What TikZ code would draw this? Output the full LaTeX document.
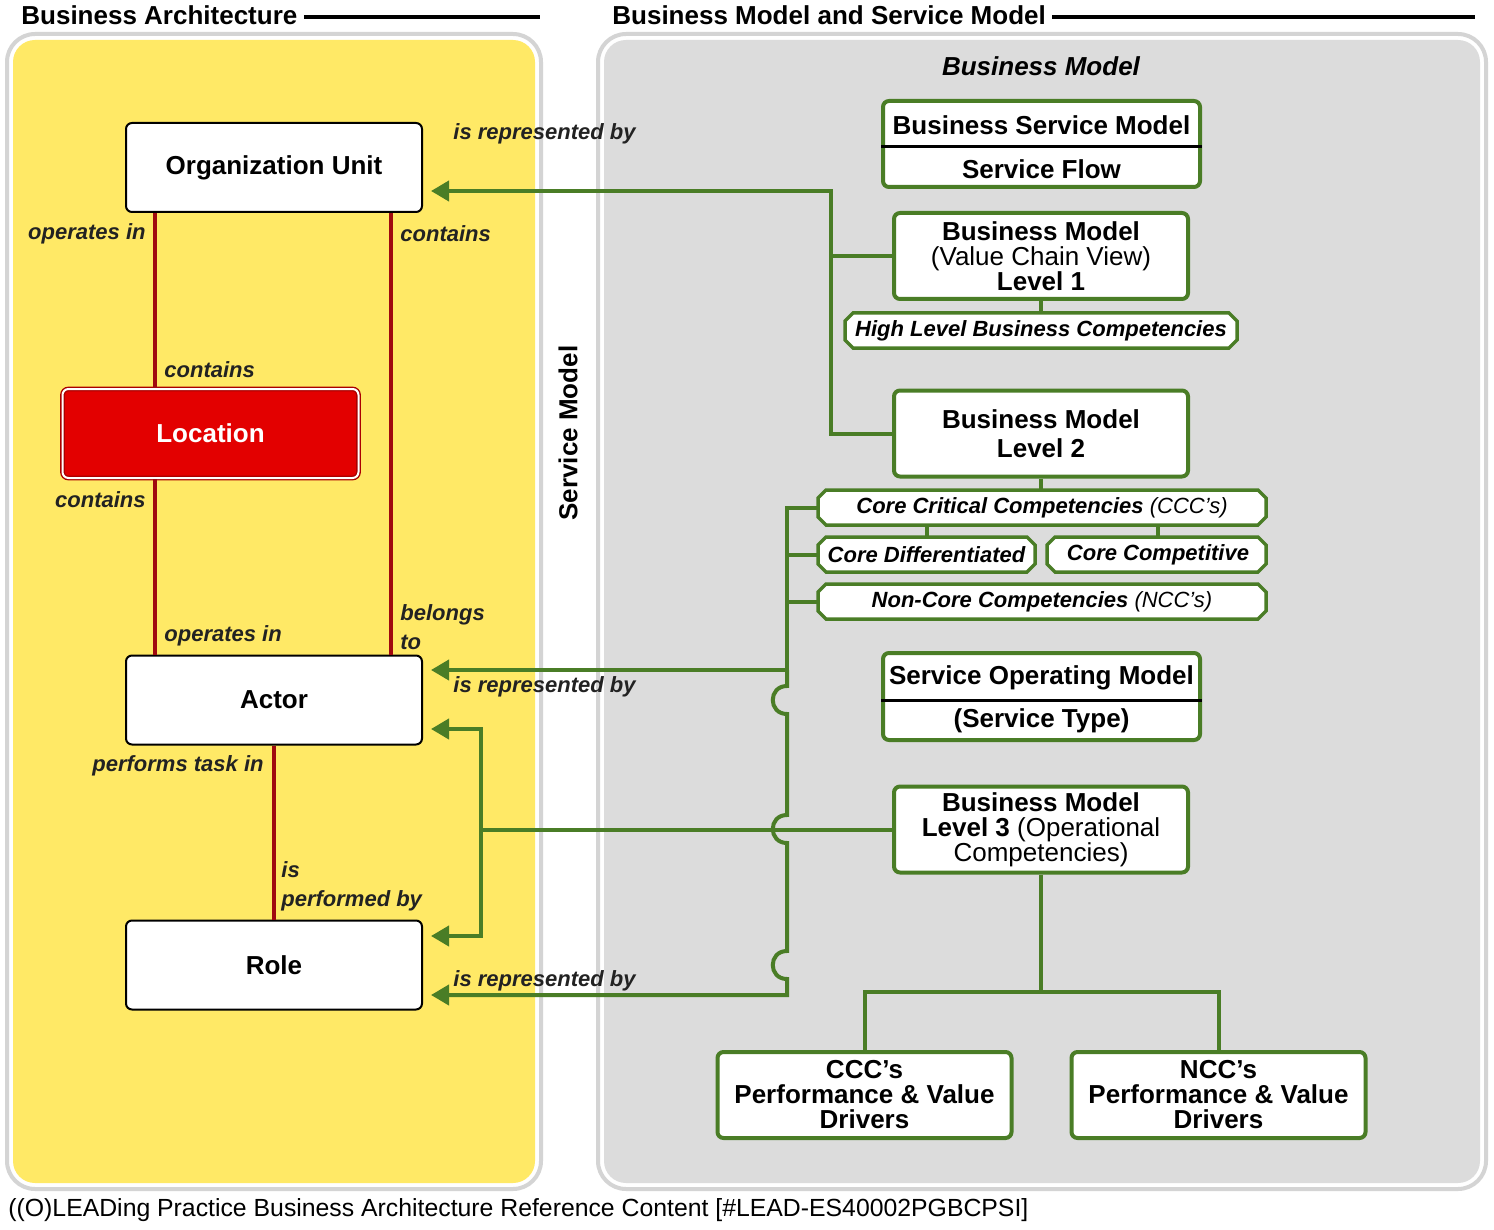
\documentclass[tikz,border=0pt]{standalone}
\usepackage{fontspec}
\setmainfont{Liberation Sans}
\newfontfamily\footfont{Liberation Sans}
\usetikzlibrary{arrows.meta}
\definecolor{bayellow}{RGB}{255, 233, 102}
\definecolor{panelgray}{RGB}{220, 220, 220}
\definecolor{framegray}{RGB}{212, 212, 212}
\definecolor{linkgreen}{RGB}{74, 125, 38}
\definecolor{reldark}{RGB}{160, 10, 15}
\definecolor{locred}{RGB}{227, 0, 0}
\definecolor{locdark}{RGB}{170, 0, 0}
\definecolor{labeltext}{RGB}{34, 34, 34}

% chamfered frame: x1, y1, x2, y2 (pixels)
\newcommand{\chamferbox}[4]{%
  \filldraw [compframe] (#1+8,#2) -- (#3-8,#2) -- (#3,#2+8) -- (#3,#4-8) -- (#3-8,#4)
    -- (#1+8,#4) -- (#1,#4-8) -- (#1,#2+8) -- cycle;}

\tikzset{
  entity/.style={draw=black, line width=1pt, fill=white, rounded corners=3pt,
    minimum width=148pt, minimum height=44.5pt, font=\bfseries\fontsize{13}{15}\selectfont},
  model/.style={draw=linkgreen, line width=2pt, fill=white, rounded corners=3pt,
    minimum width=147pt, minimum height=43pt, align=center, inner sep=0pt,
    font=\fontsize{13}{12.5}\selectfont},
  modelbold/.style={model, font=\bfseries\fontsize{13}{12.5}\selectfont},
  compframe/.style={draw=linkgreen, fill=white, line width=1.75pt, line join=miter},
  competence/.style={minimum height=17.5pt, inner sep=0pt,
    font=\bfseries\itshape\fontsize{11}{13}\selectfont},
  relation/.style={draw=reldark, line width=2pt},
  link/.style={draw=linkgreen, line width=2pt},
  rolelabel/.style={font=\bfseries\itshape\fontsize{11}{14.5}\selectfont, text=labeltext,
    inner sep=0pt, align=left},
  heading/.style={font=\bfseries\fontsize{13}{15}\selectfont, inner sep=0pt},
  >={Triangle[length=9pt, width=10pt]}
}

\begin{document}
\begin{tikzpicture}[x=0.5pt, y=-0.5pt]

  \useasboundingbox (0,0) rectangle (1494,1230);
  \fill [white] (0,0) rectangle (1494,1230);

  % panels
  \draw [draw=framegray, line width=2pt, fill=white, rounded corners=14pt] (7,34) rectangle (541,1189);
  \fill [bayellow, rounded corners=11pt] (13,40) rectangle (535,1183);
  \draw [draw=framegray, line width=2pt, fill=white, rounded corners=14pt] (598,34) rectangle (1486,1189);
  \fill [panelgray, rounded corners=11pt] (604,40) rectangle (1480,1183);

  \node [heading, anchor=west] (batitle) at (21,15) {Business Architecture};
  \coordinate (baend) at (540,17);
  \draw [line width=2pt] ([xshift=3pt]batitle.east |- baend) -- (baend);

  \node [heading, anchor=west] (bmtitle) at (612,15) {Business Model and Service Model};
  \coordinate (bmend) at (1475,17);
  \draw [line width=2pt] ([xshift=3pt]bmtitle.east |- bmend) -- (bmend);

  \node [font=\bfseries\itshape\fontsize{13}{15}\selectfont] (bmhead) at (1041,66) {Business Model};
  \node [heading, rotate=90] (smhead) at (568,433) {Service Model};

  % business architecture
  \node [entity] (org) at (274,167.5) {Organization Unit};
  \node [entity, fill=locred, text=white, draw=locdark, double=white, double distance=1pt,
         line width=0.7pt] (loc) at (210.5,433.5) {Location};
  \node [entity] (actor) at (274,700) {Actor};
  \node [entity] (role) at (274,965) {Role};

  \draw [relation] ([xshift=15pt]org.south west) -- ([xshift=15pt]org.south west |- loc.north);
  \draw [relation] ([xshift=-16pt]org.south east) -- ([xshift=-16pt]org.south east |- actor.north);
  \draw [relation] ([xshift=15pt]actor.north west) -- ([xshift=15pt]actor.north west |- loc.south);
  \draw [relation] (actor.south) -- (role.north);

  \node [rolelabel, anchor=east] (orgop) at (146,234) {operates in};
  \node [rolelabel, anchor=west] (orgcont) at (400,234) {contains};
  \node [rolelabel, anchor=west] (loccontA) at (164,370) {contains};
  \node [rolelabel, anchor=east] (loccontB) at (146,500) {contains};
  \node [rolelabel, anchor=west] (actorop) at (164,636) {operates in};
  \node [rolelabel, anchor=west] (actorbel) at (400,627) {belongs\\to};
  \node [rolelabel, anchor=east] (actorperf) at (264,766) {performs task in};
  \node [rolelabel, anchor=west] (roleperf) at (281,886.5) {is\\performed by};
  \node [rolelabel, anchor=west] (reporg) at (453,134) {is represented by};
  \node [rolelabel, anchor=west] (repactor) at (453,687) {is represented by};
  \node [rolelabel, anchor=west] (reprole) at (453,981) {is represented by};

  % business model and service model
  \node [model, minimum width=158.5pt] (bsm) at (1041.5,144) {};
  \draw [line width=1.5pt] ([yshift=-1.5pt]bsm.west) -- ([yshift=-1.5pt]bsm.east);
  \node [heading] (bsmtop) at (1041.5,125) {Business Service Model};
  \node [heading] (bsmbot) at (1041.5,169) {Service Flow};

  \node [model] (bml1) at (1041,256) {\textbf{Business Model}\\(Value Chain View)\\\textbf{Level 1}};
  \chamferbox{845}{313}{1237}{348}
  \node [competence, minimum width=196pt] (hlbc) at (1041,330.5) {High Level Business Competencies};
  \node [modelbold] (bml2) at (1041,433.5) {Business Model\\[2pt]Level 2};
  \chamferbox{818}{490}{1266}{525}
  \node [competence, minimum width=224pt] (ccc) at (1042,507.5) {Core Critical Competencies {\mdseries(CCC’s)}};
  \chamferbox{818}{537}{1035}{572}
  \node [competence, minimum width=108.5pt] (cdiff) at (926.5,554.5) {Core Differentiated};
  \chamferbox{1047}{537}{1266}{572}
  \node [competence, minimum width=109.5pt] (ccomp) at (1158,554.5) {Core Competitive};
  \chamferbox{818}{584}{1266}{619}
  \node [competence, minimum width=224pt] (ncc) at (1042,601.5) {Non-Core Competencies {\mdseries(NCC’s)}};

  \node [model, minimum width=158.5pt, minimum height=43.5pt] (som) at (1041.5,696.5) {};
  \draw [line width=1.5pt] ([yshift=-1.75pt]som.west) -- ([yshift=-1.75pt]som.east);
  \node [heading] (somtop) at (1041.5,678) {Service Operating Model};
  \node [heading] (sombot) at (1041.5,721) {(Service Type)};

  \node [model] (bml3) at (1041,829.5) {\textbf{Business Model}\\\textbf{Level 3} (Operational\\Competencies)};
  \node [modelbold] (cccd) at (864.5,1095) {CCC’s\\Performance \& Value\\Drivers};
  \node [modelbold] (nccd) at (1218.5,1095) {NCC’s\\Performance \& Value\\Drivers};

  \coordinate (jA) at (831,191);
  \draw [link, ->] (bml2.west) -| (jA) -- ([xshift=4pt]org.east |- jA);
  \draw [link] (bml1.west) -- (bml1.west -| jA);
  \draw [link] (bml1.south) -- (hlbc.north);
  \draw [link] (bml2.south) -- (bml2.south |- ccc.north);
  \draw [link] (cdiff.north) -- (cdiff.north |- ccc.south);
  \draw [link] (ccomp.north) -- (ccomp.north |- ccc.south);

  \coordinate (jB) at (787,670);
  \coordinate (jBend) at (787,995);
  \draw [link] (ccc.west) -- (ccc.west -| jB) -- (jB);
  \draw [link] (cdiff.west) -- (cdiff.west -| jB);
  \draw [link] (ncc.west) -- (ncc.west -| jB);
  \draw [link, ->] (jB) -- ([xshift=4pt]actor.east |- jB);
  \draw [link, ->] (jB) -- (787,686) .. controls (768,686) and (768,714) .. (787,714)
    -- (787,815) .. controls (768,815) and (768,843) .. (787,843)
    -- (787,951) .. controls (768,951) and (768,979) .. (787,979)
    -- (jBend) -- ([xshift=4pt]role.east |- jBend);

  \coordinate (jC) at (481,829.5);
  \draw [link, <->] ([xshift=4pt, yshift=-14.5pt]actor.east) -| (jC) |- ([xshift=4pt, yshift=14.5pt]role.east);
  \draw [link] (jC) -- (bml3.west);

  \coordinate (jD) at (1041,992);
  \draw [link] (bml3.south) -- (jD);
  \draw [link] (cccd.north) |- (jD) -| (nccd.north);

  \node [anchor=west, inner sep=0pt, font=\footfont\fontsize{12.4}{14}\selectfont] (footer) at (8,1210)
    {((O)LEADing Practice Business Architecture Reference Content [\#LEAD-ES40002PGBCPSI]};

\end{tikzpicture}
\end{document}
